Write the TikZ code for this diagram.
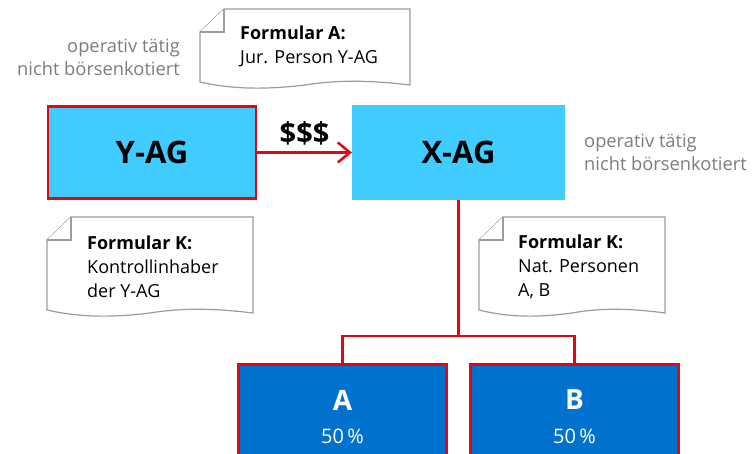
\documentclass[tikz,border=0pt]{standalone}
\usepackage{fontspec}
\setmainfont{Open Sans}
\usetikzlibrary{arrows.meta,calc}

\definecolor{lightcyan}{HTML}{41CCFF}
\definecolor{deepblue}{HTML}{0072CE}
\definecolor{signalred}{HTML}{E30613}
\definecolor{notegray}{HTML}{9C9C9C}
\definecolor{labelgray}{HTML}{7C7C7C}

% sheet of paper with a folded top-left corner and a wavy lower edge
% #1 left, #2 top, #3 right, #4 bottom
\newcommand{\notesheet}[4]{%
  \draw[sheetline] ({#1+24},#2) -- (#3,#2) -- (#3,{#4+3})
    .. controls ({#3-0.2*(#3-#1)},{#4-2}) and ({#3-0.35*(#3-#1)},{#4-2}) .. ({#1+0.5*(#3-#1)},{#4+3})
    .. controls ({#1+0.3*(#3-#1)},{#4+8}) and ({#1+0.15*(#3-#1)},{#4+7}) .. (#1,#4)
    -- (#1,{#2+23}) -- cycle;
  \draw[sheetline] (#1,{#2+23}) -- ({#1+24},{#2+23}) -- ({#1+24},#2);%
}

\begin{document}
\begin{tikzpicture}[x=1pt,y=-1pt,
  company/.style={fill=lightcyan, minimum width=208pt, minimum height=92pt,
    inner sep=0pt, font=\fontsize{31}{36}\selectfont\bfseries},
  redframe/.style={draw=signalred, line width=2.5pt},
  owner/.style={fill=deepblue, draw=signalred, line width=2.5pt,
    minimum width=208pt, minimum height=110pt, inner sep=0pt, anchor=north},
  conn/.style={draw=signalred, line width=2.5pt},
  sheetline/.style={draw=notegray, line width=1.2pt, fill=white, line join=miter},
  notetext/.style={align=left, anchor=west, inner sep=0pt,
    font=\fontsize{18}{24}\selectfont},
  graytext/.style={text=labelgray, inner sep=0pt,
    font=\fontsize{18.3}{23}\selectfont},
  ownername/.style={text=white, inner sep=0pt, font=\fontsize{28}{32}\selectfont\bfseries},
  ownershare/.style={text=white, inner sep=0pt, font=\fontsize{20}{24}\selectfont}
]
\useasboundingbox (0,0) rectangle (752,454);
\clip (0,0) rectangle (752,454);

% companies
\node[company, redframe] (yag) at (152,152.5) {Y-AG};
\node[company, minimum width=213pt, minimum height=95pt] (xag) at (458.5,152.5) {X-AG};

% payment flow
\draw[conn, -{Straight Barb[length=12pt,width=20pt,line width=2.5pt]}] (yag.east) -- (xag.west)
  node[midway, above=6pt, font=\fontsize{29}{32}\selectfont\bfseries, inner sep=0pt] (pay) {\$\$\$};

% shareholders
\node[owner] (a) at (342.5,363) {};
\node[owner] (b) at (574.5,363) {};
\node[ownername] (aname) at (342.5,400) {A};
\node[ownershare] (ashare) at (342.5,436) {50\,\%};
\node[ownername] (bname) at (574.5,400) {B};
\node[ownershare] (bshare) at (574.5,436) {50\,\%};

\coordinate (split) at (458.5,336);
\draw[conn] (xag.south) -- (split);
\draw[conn] (a.north) -- (a.north |- split) -- (b.north |- split) -- (b.north);

% forms
\notesheet{200}{9}{410}{82}
\node[notetext] (forma) at (240,46) {\textbf{Formular A:}\\Jur. Person Y-AG};

\notesheet{47}{217}{253}{310}
\node[notetext] (formky) at (87,267) {\textbf{Formular K:}\\Kontrollinhaber\\der Y-AG};

\notesheet{479}{217}{665}{310}
\node[notetext] (formkx) at (518,267) {\textbf{Formular K:}\\Nat. Personen\\A, B};

% status remarks
\node[graytext, align=right, anchor=east] (statusy) at (180,57) {operativ tätig\\nicht börsenkotiert};
\node[graytext, align=left, anchor=west] (statusx) at (584,152) {operativ tätig\\nicht börsenkotiert};
\end{tikzpicture}
\end{document}
